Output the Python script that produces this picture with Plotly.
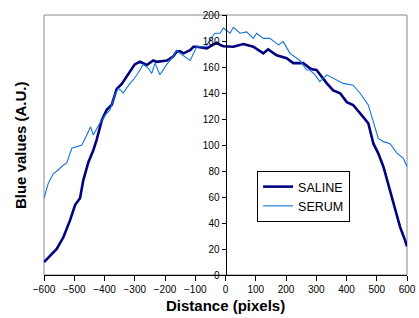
import plotly.graph_objects as go

saline_x = [-600, -580, -558, -536, -514, -497, -481, -470, -453, -437, -426, -409, -393, -376, -360, -343, -327,
            -320, -300, -283, -260, -250, -239, -227, -206, -194, -173, -161, -150, -139, -117, -106, -95, -62,
            -29, -18, -7, 26, 59, 92, 125, 141, 169, 202, 224, 257, 279, 290, 301, 335, 356, 379, 401, 422, 450,
            472, 489, 505, 522, 544, 560, 577, 593, 600]
saline_y = [10, 15, 20, 29, 42, 54, 59, 73, 87, 96, 104, 119, 127, 131, 143, 147, 152,
            155, 162, 164, 161.5, 163, 165, 164, 165, 165, 168, 172, 172, 170.5, 173, 175.6, 175.6, 174.4,
            178.7, 177, 176, 175.6, 177.7, 175.6, 170.5, 173.6, 169, 166.7, 163, 163, 159, 158, 157.7, 147.4, 142,
            139.8, 133, 130.8, 123, 116.7, 101, 93.6, 83.3, 65, 52.5, 37, 27, 22]

serum_x = [-600, -586, -569, -553, -536, -525, -508, -492, -475, -464, -446, -437, -420, -398, -382, -365, -354,
           -338, -316, -305, -290, -272, -260, -255, -244, -233, -217, -206, -194, -173, -161, -150, -134, -117,
           -95, -65, -51, -35, -18, -7, 15, 26, 48, 70, 92, 103, 125, 147, 175, 191, 213, 246, 268, 279, 296,
           312, 335, 368, 389, 422, 445, 472, 489, 505, 522, 544, 566, 588, 600]
serum_y = [59, 70.5, 78, 80.8, 84.6, 86, 97.5, 98.7, 100, 105, 114, 107.7, 115, 123, 127, 139, 143.6,
           140, 147.4, 150, 155, 162, 160, 159, 155, 163, 154, 157.7, 162, 168, 173, 170.5, 168, 165,
           175.6, 175.6, 181, 186, 186, 190, 186, 190.5, 186, 187, 182, 186, 182, 182, 177, 179.5, 170.5, 165,
           157.7, 157.7, 154, 148.7, 154, 150, 147.4, 146, 139.8, 130.8, 116.7, 105, 102.6, 101, 94, 89.7, 83.3]

x_ticks = [-600, -500, -400, -300, -200, -100, 0, 100, 200, 300, 400, 500, 600]
y_ticks = [0, 20, 40, 60, 80, 100, 120, 140, 160, 180, 200]

fig = go.Figure()
fig.add_trace(go.Scatter(x=saline_x, y=saline_y, mode="lines", name="SALINE",
                         line=dict(color="#000080", width=2.6)))
fig.add_trace(go.Scatter(x=serum_x, y=serum_y, mode="lines", name="SERUM",
                         line=dict(color="#1173DB", width=1.1)))

fig.add_shape(type="rect", xref="paper", yref="paper", x0=0, y0=0, x1=1, y1=1,
              line=dict(color="#888888", width=1), layer="below")

fig.update_layout(
    width=419, height=318,
    margin=dict(l=44, r=12, t=15, b=43, autoexpand=False),
    paper_bgcolor="white", plot_bgcolor="white",
    font=dict(family="Liberation Sans, Arial, sans-serif", color="black", size=10),
    xaxis=dict(range=[-600, 600], tickvals=x_ticks, ticks="outside", ticklen=5,
               tickcolor="black", showline=True, linecolor="black", linewidth=1,
               showgrid=False, zeroline=False, tickfont=dict(size=10), automargin=False),
    yaxis=dict(range=[0, 200], tickvals=y_ticks, ticks="outside", ticklen=4,
               tickcolor="black", showline=True, linecolor="black", linewidth=1,
               showgrid=False, zeroline=False, anchor="free", position=0.5,
               tickfont=dict(size=10), automargin=False),
    legend=dict(x=0.587, y=0.4, xanchor="left", yanchor="top",
                bordercolor="black", borderwidth=1, bgcolor="white",
                font=dict(size=12.5), itemwidth=30, tracegroupgap=0),
    showlegend=True,
)

fig.add_annotation(text="<b>Distance (pixels)</b>", xref="paper", yref="paper",
                   x=0.5, y=-0.116, xanchor="center", yanchor="middle",
                   showarrow=False, font=dict(size=15))
fig.add_annotation(text="<b>Blue values (A.U.)</b>", xref="paper", yref="paper",
                   x=-0.066, y=0.5, xanchor="center", yanchor="middle", textangle=-90,
                   showarrow=False, font=dict(size=15))

fig.write_html("out.html", config={"displayModeBar": False},
               post_script="document.body.style.margin='0';document.body.style.padding='0';")
